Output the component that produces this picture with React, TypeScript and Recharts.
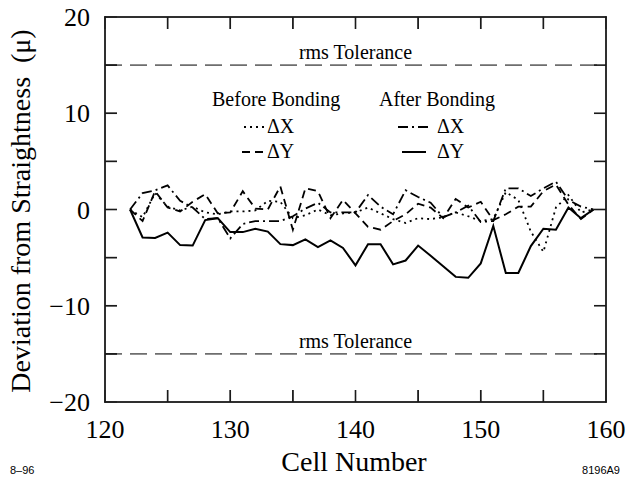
import { LineChart, Line, XAxis, YAxis, ReferenceLine } from "recharts";

const cells = [
  122, 123, 124, 125, 126, 127, 128, 129, 130, 131, 132, 133, 134, 135, 136, 137, 138, 139, 140,
  141, 142, 143, 144, 145, 146, 147, 148, 149, 150, 151, 152, 153, 154, 155, 156, 157, 158, 159,
];

// before bonding
const beforeDX = [
  0, -0.8, 1.7, 0.3, -0.1, 0.3, -0.3, -0.5, -0.2, -0.2, -0.1, 0.9, 0.8, -0.9, -0.6, 0.0, -0.6, -0.4, -0.3,
  0.2, -0.4, -1.0, -1.4, -0.9, -1.0, -0.8, -0.3, -0.7, -1.2, -1.0, 1.8, 1.0, -2.3, -4.4, 0.2, 1.5, -0.3, 0,
];
const beforeDY = [
  0, -1.2, 1.9, 0.2, -0.2, 0.8, 1.6, -0.4, -0.3, 1.9, 0.1, 0.0, 2.4, -2.1, 2.2, 1.9, -0.9, 1.0, -0.4,
  -1.8, -2.1, -1.2, -0.5, 0.6, 0.2, -0.9, 1.1, 0.2, 0.8, -1.1, -0.5, 0.3, 0.3, 1.9, 2.6, 0.5, -1.0, 0,
];

// after bonding
const afterDX = [
  0, 1.7, 2.0, 2.5, 0.9, 0.2, -1.0, -0.9, -3.0, -1.5, -1.2, -1.2, -1.2, -0.7, 0.1, 0.7, -0.3, -0.3, -0.3,
  1.5, 0.3, -0.5, 2.0, 1.3, 0.7, -0.8, -0.3, 0.4, -1.3, -1.2, 2.2, 2.2, 1.4, 2.2, 2.9, 1.0, 0.3, 0,
];
const afterDY = [
  0, -2.9, -2.95, -2.4, -3.7, -3.75, -1.1, -0.9, -2.35, -2.35, -2.0, -2.3, -3.6, -3.7, -3.1, -3.9, -3.2, -4.0, -5.8,
  -3.6, -3.6, -5.7, -5.3, -3.75, -4.8, -5.9, -7.0, -7.1, -5.6, -1.7, -6.6, -6.6, -3.8, -2.0, -2.1, 0.2, -0.9, 0,
];

const xTicks = [120, 125, 130, 135, 140, 145, 150, 155, 160];
const yTicks = [-20, -15, -10, -5, 0, 5, 10, 15, 20];

const data = cells.map((cell, i) => ({
  cell,
  beforeDX: beforeDX[i],
  beforeDY: beforeDY[i],
  afterDX: afterDX[i],
  afterDY: afterDY[i],
}));

const SERIF = '"Liberation Serif", "Times New Roman", serif';
const SANS = '"Liberation Sans", Arial, sans-serif';
const TICK = -12; // negative tick size -> ticks point into the plot

// plot box, matches the chart margins below
const PL = 105;
const PT = 17;
const PW = 501;
const PH = 385;
const px = (v: number) => PL + ((v - 120) / 40) * PW;
const py = (v: number) => PT + ((20 - v) / 40) * PH;

const fmt = (v: number) => (v < 0 ? `\u2212${-v}` : `${v}`);

// label position = axis position + 12 inward, so shift back out
function BottomTick(props: any) {
  const { x, y, payload } = props;
  const v = payload.value;
  if (v % 10 !== 0) return <g />;
  return (
    <text x={x} y={y + 48} textAnchor="middle" fontFamily={SERIF} fontSize={26} fill="#000">
      {v}
    </text>
  );
}

function LeftTick(props: any) {
  const { x, y, payload } = props;
  const v = payload.value;
  if (v % 10 !== 0) return <g />;
  return (
    <text x={x - 27} y={y + 9} textAnchor="end" fontFamily={SERIF} fontSize={26} fill="#000">
      {fmt(v)}
    </text>
  );
}

const NoLabel = () => <g />;

const tolLabel = {
  value: "rms Tolerance",
  position: "top" as const,
  offset: 6,
  fontFamily: SERIF,
  fontSize: 20,
  fill: "#000",
};

export default function App() {
  const innerX = xTicks.slice(1, -1);
  const innerY = yTicks.slice(1, -1);
  const W = 1.6;
  return (
    <div style={{ position: "absolute", left: 0, top: 0, width: 632, height: 480, background: "#fff" }}>
      <LineChart width={632} height={480} data={data} margin={{ top: 16, right: 25, bottom: 38, left: 45 }}>
        <XAxis
          dataKey="cell"
          type="number"
          domain={[120, 160]}
          ticks={xTicks}
          interval={0}
          height={40}
          tickSize={TICK}
          tickMargin={0}
          tick={<BottomTick />}
          stroke="#1a1a1a"
        />
        <XAxis
          xAxisId="top"
          orientation="top"
          dataKey="cell"
          type="number"
          domain={[120, 160]}
          ticks={xTicks}
          interval={0}
          height={1}
          tickSize={TICK}
          tickMargin={0}
          tick={<NoLabel />}
          stroke="#1a1a1a"
        />
        <YAxis
          type="number"
          domain={[-20, 20]}
          ticks={yTicks}
          interval={0}
          width={60}
          tickSize={TICK}
          tickMargin={0}
          tick={<LeftTick />}
          stroke="#1a1a1a"
        />
        <YAxis
          yAxisId="right"
          orientation="right"
          type="number"
          domain={[-20, 20]}
          ticks={yTicks}
          interval={0}
          width={1}
          tickSize={TICK}
          tickMargin={0}
          tick={<NoLabel />}
          stroke="#1a1a1a"
        />
        <ReferenceLine y={15} stroke="#6e6e6e" strokeWidth={1.8} strokeDasharray="17 8" label={tolLabel} />
        <ReferenceLine y={-15} stroke="#6e6e6e" strokeWidth={1.8} strokeDasharray="17 8" label={tolLabel} />
        <Line dataKey="beforeDX" stroke="#000" strokeWidth={1.8} strokeDasharray="2 4" dot={false} isAnimationActive={false} />
        <Line dataKey="beforeDY" stroke="#000" strokeWidth={1.8} strokeDasharray="8 5" dot={false} isAnimationActive={false} />
        <Line dataKey="afterDX" stroke="#000" strokeWidth={1.8} strokeDasharray="10 4 2 4" dot={false} isAnimationActive={false} />
        <Line dataKey="afterDY" stroke="#000" strokeWidth={2} dot={false} isAnimationActive={false} />
      </LineChart>
      <svg
        width={632}
        height={480}
        style={{ position: "absolute", left: 0, top: 0, zIndex: 2, pointerEvents: "none" }}
      >
        {/* frame and inner ticks as filled bars */}
        <g fill="#1a1a1a">
          <rect x={PL - W / 2} y={PT - W / 2} width={PW + W} height={W} />
          <rect x={PL - W / 2} y={PT + PH - W / 2} width={PW + W} height={W} />
          <rect x={PL - W / 2} y={PT - W / 2} width={W} height={PH + W} />
          <rect x={PL + PW - W / 2} y={PT - W / 2} width={W} height={PH + W} />
          {innerX.map((t) => (
            <g key={`x${t}`}>
              <rect x={px(t) - W / 2} y={PT + PH - 12} width={W} height={12} />
              <rect x={px(t) - W / 2} y={PT} width={W} height={12} />
            </g>
          ))}
          {innerY.map((t) => (
            <g key={`y${t}`}>
              <rect x={PL} y={py(t) - W / 2} width={12} height={W} />
              <rect x={PL + PW - 12} y={py(t) - W / 2} width={12} height={W} />
            </g>
          ))}
        </g>
        <g fontFamily={SERIF} fontSize={20} fill="#000">
          <text x={212} y={106}>Before Bonding</text>
          <text x={379} y={106}>After Bonding</text>
          <text x={267} y={133}>ΔX</text>
          <text x={267} y={158}>ΔY</text>
          <text x={437} y={133}>ΔX</text>
          <text x={437} y={158}>ΔY</text>
        </g>
        <line x1={244} x2={264} y1={127} y2={127} stroke="#000" strokeWidth={1.8} strokeDasharray="2 4" />
        <line x1={242} x2={264} y1={152} y2={152} stroke="#000" strokeWidth={1.8} strokeDasharray="8 5" />
        <line x1={398} x2={432} y1={127} y2={127} stroke="#000" strokeWidth={1.8} strokeDasharray="10 4 2 4" />
        <line x1={402} x2={426} y1={152} y2={152} stroke="#000" strokeWidth={2} />
        <text x={354} y={471} textAnchor="middle" fontFamily={SERIF} fontSize={28} fill="#000">
          Cell Number
        </text>
        <text
          transform="translate(30, 211) rotate(-90)"
          textAnchor="middle"
          fontFamily={SERIF}
          fontSize={28}
          fill="#000"
          style={{ whiteSpace: "pre" }}
        >
          {"Deviation from Straightness  (\u03bc)"}
        </text>
        <text x={10} y={474} fontFamily={SANS} fontSize={11} fill="#000">
          8–96
        </text>
        <text x={620} y={474} textAnchor="end" fontFamily={SANS} fontSize={11} fill="#000">
          8196A9
        </text>
      </svg>
    </div>
  );
}
